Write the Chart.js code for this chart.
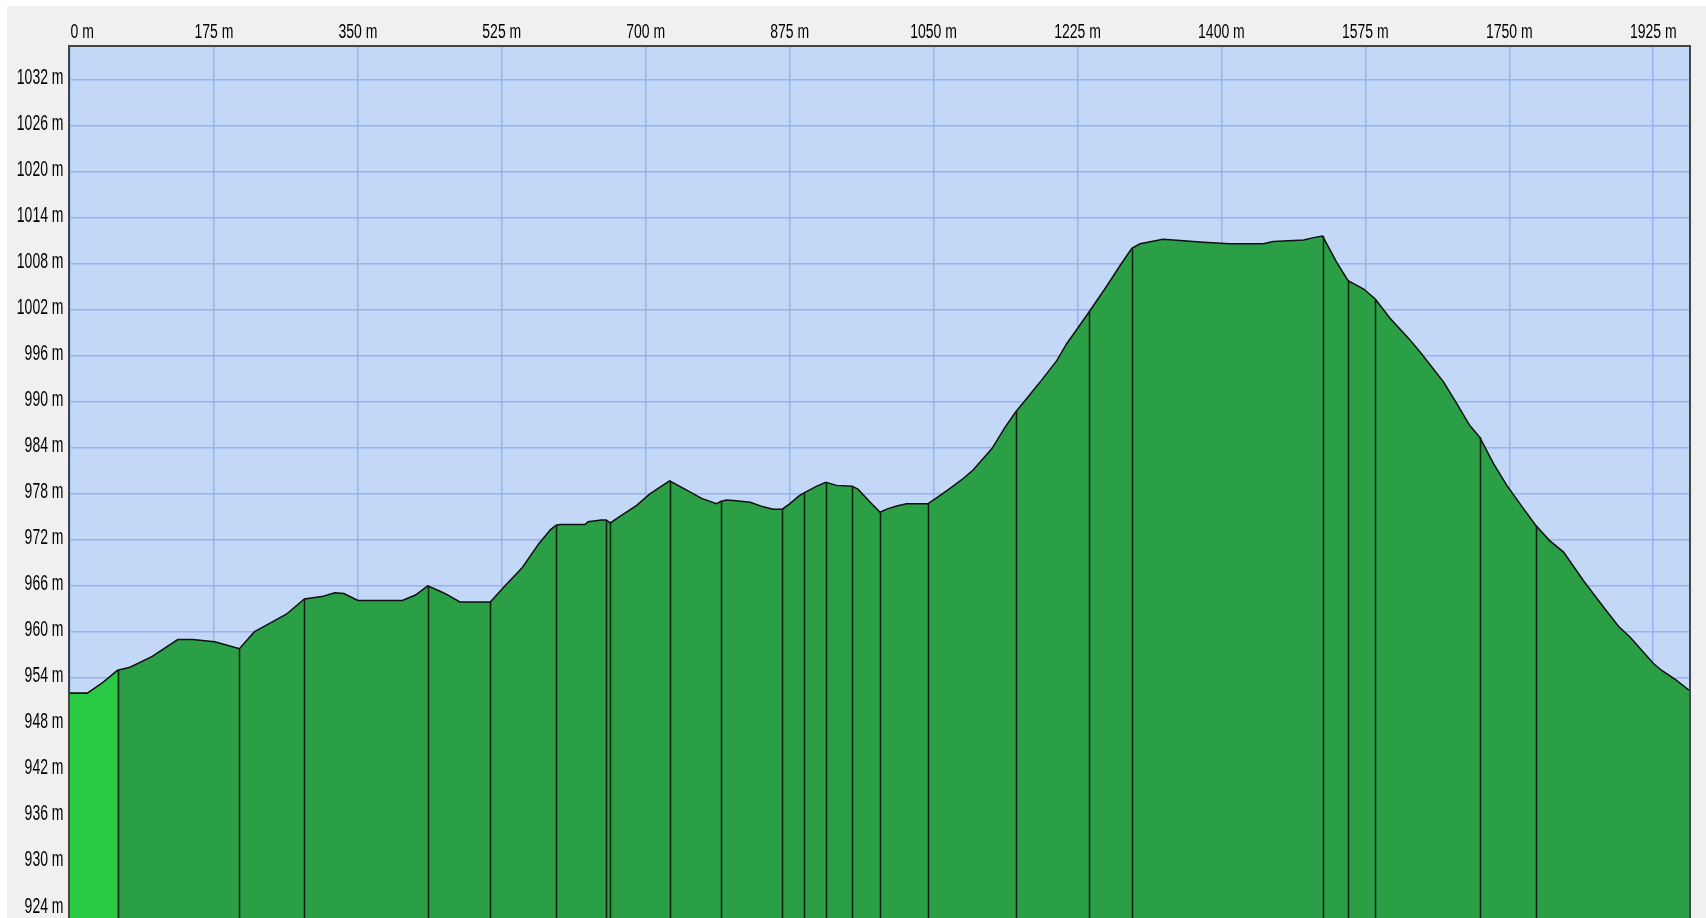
<!DOCTYPE html>
<html>
<head>
<meta charset="utf-8">
<script src="https://cdn.jsdelivr.net/npm/chart.js@4"></script>
<style>
  html, body { margin:0; padding:0; background:#ffffff; width:1706px; height:918px; overflow:hidden; }
  #wrap { position:absolute; left:7px; top:6px; width:1699px; height:912px; background:#f0f0f0; }
  canvas { display:block; }
</style>
</head>
<body>
<div id="wrap"><canvas id="c" width="1699" height="912" style="width:1699px;height:912px"></canvas></div>
<script>
// ---- data (distance in m, elevation in m) ----
const distances = [0, 21, 40, 58, 73, 100, 131, 149, 176, 190, 206, 224, 241, 263, 285, 306, 322, 333, 350, 404,
  420, 435, 450, 458, 474, 511, 529, 550, 570, 584, 591, 596, 626, 630, 646, 652, 657, 665, 689, 705,
  729, 746, 768, 786, 791, 798, 810, 827, 843, 855, 866, 875, 886, 892, 908, 919, 932, 951, 958, 973,
  985, 993, 1005, 1017, 1043, 1058, 1070, 1086, 1098, 1121, 1137, 1150, 1163, 1179, 1200, 1212, 1222, 1239, 1260, 1277,
  1291, 1301, 1329, 1354, 1378, 1410, 1451, 1463, 1500, 1512, 1523, 1540, 1554, 1573, 1587, 1605, 1629, 1643, 1670, 1686,
  1702, 1714, 1731, 1747, 1767, 1782, 1799, 1816, 1840, 1864, 1883, 1897, 1925, 1935, 1953, 1968.5];
const elevations = [952.0, 952.0, 953.4, 955.0, 955.4, 956.8, 959.0, 959.0, 958.7, 958.3, 957.8, 960.0, 961.0, 962.3, 964.3, 964.6, 965.1, 965.0, 964.1, 964.1,
  964.8, 966.0, 965.3, 964.9, 963.9, 963.9, 966.0, 968.4, 971.5, 973.3, 973.9, 974.0, 974.0, 974.35, 974.6, 974.6, 974.2, 974.8, 976.5, 978.0,
  979.7, 978.7, 977.4, 976.7, 977.0, 977.2, 977.1, 976.9, 976.3, 976.0, 976.0, 976.7, 977.7, 978.1, 979.0, 979.5, 979.1, 979.0, 978.6, 976.9,
  975.6, 976.0, 976.4, 976.7, 976.7, 977.8, 978.7, 980.0, 981.1, 983.9, 986.7, 988.7, 990.4, 992.5, 995.4, 997.6, 999.1, 1001.7, 1005.0, 1007.8,
  1010.0, 1010.6, 1011.2, 1011.0, 1010.8, 1010.6, 1010.6, 1010.9, 1011.1, 1011.4, 1011.6, 1008.2, 1005.8, 1004.7, 1003.4, 1000.9, 998.1, 996.3, 992.6, 989.8,
  986.9, 985.4, 981.9, 979.1, 976.1, 973.9, 971.9, 970.4, 966.7, 963.3, 960.7, 959.3, 955.9, 955.0, 953.7, 952.4];
// waypoint (segment boundary) distances
const waypoints = [58, 206, 285, 435, 511, 591, 652, 657, 729, 791, 866, 892, 919, 951, 985, 1043, 1150, 1239, 1291, 1523, 1554, 1587, 1714, 1782];
// tick labels
const xTicks = [0, 175, 350, 525, 700, 875, 1050, 1225, 1400, 1575, 1750, 1925];
const yTicks = [924, 930, 936, 942, 948, 954, 960, 966, 972, 978, 984, 990, 996, 1002, 1008, 1014, 1020, 1026, 1032];

// ---- styles ----
const PLOT_BG = '#c3d7f6';
const GRID = '#96b1f4';
const DARK_GREEN = '#2a9f45';
const LIGHT_GREEN = '#2ac944';
const LINE = '#111111';
const FONT = '14px "Liberation Sans", Arial, sans-serif';

const profile = distances.map((d, i) => ({ x: d, y: elevations[i] }));
const firstLeg = profile.filter(p => p.x <= waypoints[0]);

const bgPlugin = {
  id: 'plotBg',
  beforeDraw(chart) {
    const { ctx, chartArea: a } = chart;
    ctx.save();
    ctx.fillStyle = PLOT_BG;
    ctx.fillRect(a.left, a.top, a.right - a.left, a.bottom - a.top);
    ctx.restore();
  }
};

const waypointPlugin = {
  id: 'waypoints',
  afterDatasetsDraw(chart) {
    const { ctx, chartArea: a, scales } = chart;
    ctx.save();
    ctx.strokeStyle = '#0f1f12';
    ctx.lineWidth = 1.5;
    waypoints.forEach(w => {
      const i = distances.indexOf(w);
      if (i < 0) return;
      const x = Math.round(scales.x.getPixelForValue(w)) + 0.5;
      const y = scales.y.getPixelForValue(elevations[i]);
      ctx.beginPath();
      ctx.moveTo(x, y);
      ctx.lineTo(x, a.bottom);
      ctx.stroke();
    });
    ctx.restore();
  }
};

const labelPlugin = {
  id: 'labels',
  afterDraw(chart) {
    const { ctx, chartArea: a, scales } = chart;
    ctx.save();
    // frame
    ctx.strokeStyle = '#454545';
    ctx.lineWidth = 2;
    ctx.beginPath();
    ctx.moveTo(a.left - 1, a.bottom + 2);
    ctx.lineTo(a.left - 1, a.top - 1);
    ctx.lineTo(a.right + 1, a.top - 1);
    ctx.lineTo(a.right + 1, a.bottom + 2);
    ctx.stroke();
    // x tick labels (top)
    ctx.font = FONT;
    ctx.fillStyle = '#000';
    ctx.textBaseline = 'middle';
    scales.x.ticks.forEach((t, i) => {
      const x = scales.x.getPixelForValue(t.value);
      ctx.save();
      ctx.translate(i === 0 ? x + 0.5 : x, 26);
      ctx.scale(1, 1.43);
      ctx.textAlign = i === 0 ? 'left' : 'center';
      ctx.fillText(t.value + ' m', 0, 0);
      ctx.restore();
    });
    // y tick labels (left)
    scales.y.ticks.forEach(t => {
      const y = scales.y.getPixelForValue(t.value);
      ctx.save();
      ctx.translate(a.left - 6.5, y - 1.5);
      ctx.scale(1, 1.55);
      ctx.textAlign = 'right';
      ctx.fillText(t.value + ' m', 0, 0);
      ctx.restore();
    });
    ctx.restore();
  }
};

new Chart(document.getElementById('c'), {
  type: 'line',
  data: {
    datasets: [
      { label: 'first leg', data: firstLeg, fill: 'start', backgroundColor: LIGHT_GREEN,
        borderColor: LINE, borderWidth: 1.5, pointRadius: 0, tension: 0, order: 0 },
      { label: 'profile', data: profile, fill: 'start', backgroundColor: DARK_GREEN,
        borderColor: LINE, borderWidth: 1.5, pointRadius: 0, tension: 0, order: 1 }
    ]
  },
  options: {
    responsive: false,
    animation: false,
    layout: { padding: { left: 0, top: 0, right: 17, bottom: 0 } },
    plugins: { legend: { display: false }, tooltip: { enabled: false } },
    scales: {
      x: {
        type: 'linear', position: 'top', min: 0, max: 1968.5,
        afterBuildTicks: s => { s.ticks = xTicks.map(v => ({ value: v })); },
        afterFit: s => { s.height = 41; },
        ticks: { display: false },
        grid: { color: GRID, lineWidth: 1.5, drawTicks: false },
        border: { display: false }
      },
      y: {
        type: 'linear', min: 922.7, max: 1036.25,
        afterBuildTicks: s => { s.ticks = yTicks.map(v => ({ value: v })); },
        afterFit: s => { s.width = 63; },
        ticks: { display: false },
        grid: { color: GRID, lineWidth: 1.5, drawTicks: false },
        border: { display: false }
      }
    }
  },
  plugins: [bgPlugin, waypointPlugin, labelPlugin]
});
</script>
</body>
</html>
